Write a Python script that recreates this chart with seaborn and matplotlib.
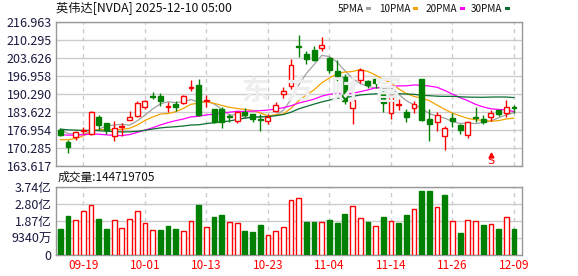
import numpy as np
import pandas as pd
import matplotlib
matplotlib.use("Agg")
import matplotlib.pyplot as plt
import seaborn as sns
from matplotlib.patches import Rectangle

# ---------------- data ----------------
dates = ["09-16", "09-17", "09-18", "09-19", "09-22", "09-23", "09-24", "09-25", "09-26", "09-29",
         "09-30", "10-01", "10-02", "10-03", "10-06", "10-07", "10-08", "10-09", "10-10", "10-13",
         "10-14", "10-15", "10-16", "10-17", "10-20", "10-21", "10-22", "10-23", "10-24", "10-27",
         "10-28", "10-29", "10-30", "10-31", "11-03", "11-04", "11-05", "11-06", "11-07", "11-10",
         "11-11", "11-12", "11-13", "11-14", "11-17", "11-18", "11-19", "11-20", "11-21", "11-24",
         "11-25", "11-26", "11-28", "12-01", "12-02", "12-03", "12-04", "12-05", "12-08", "12-09"]

open_ = [177.07, 172.62, 174.36, 176.40, 175.47, 181.62, 179.55, 174.84, 177.92, 180.66,
         182.14, 185.33, 189.55, 189.40, 185.50, 186.59, 186.96, 192.50, 193.73, 187.55,
         184.73, 184.73, 182.10, 180.14, 183.47, 182.88, 181.03, 180.40, 184.10, 190.20,
         193.25, 208.07, 205.22, 206.59, 207.33, 203.48, 198.81, 196.59, 185.22, 195.48,
         195.10, 195.96, 191.03, 183.36, 186.07, 183.47, 184.96, 195.85, 181.03, 179.77,
         174.84, 181.25, 178.92, 175.22, 181.88, 181.03, 181.62, 184.36, 183.10, 185.40]
high = [177.60, 173.36, 176.70, 178.20, 184.10, 182.50, 179.66, 180.14, 179.66, 183.85,
        187.55, 188.07, 190.88, 190.51, 187.18, 187.81, 189.92, 195.48, 195.85, 189.92,
        184.85, 185.33, 182.88, 184.10, 184.96, 183.00, 182.88, 182.88, 187.18, 192.70,
        203.37, 212.10, 206.22, 208.07, 211.51, 203.99, 202.88, 197.55, 188.55, 200.03,
        195.48, 196.33, 191.40, 189.70, 188.44, 184.73, 187.81, 196.00, 184.73, 183.47,
        178.55, 183.10, 179.00, 180.40, 185.59, 182.62, 184.47, 184.50, 188.07, 186.07]
low = [174.80, 168.30, 173.25, 175.50, 175.10, 176.96, 175.47, 172.99, 174.84, 180.50,
       181.62, 184.73, 188.44, 185.96, 183.47, 184.10, 186.59, 191.25, 182.25, 185.59,
       179.40, 177.70, 179.77, 179.55, 181.62, 179.77, 176.70, 179.18, 183.47, 188.90,
       191.99, 203.99, 201.51, 202.50, 206.22, 198.18, 195.10, 186.44, 179.29, 194.22,
       192.62, 192.62, 183.62, 180.88, 184.36, 179.77, 183.10, 180.14, 172.99, 176.44,
       169.66, 178.18, 175.47, 173.84, 179.77, 179.18, 180.40, 182.00, 181.88, 183.25]
close = [175.10, 170.51, 176.21, 176.80, 183.73, 178.66, 177.07, 177.55, 178.44, 181.88,
         186.81, 187.55, 189.03, 187.81, 185.80, 185.33, 189.40, 192.90, 182.51, 188.07,
         180.03, 179.77, 181.90, 183.47, 182.62, 181.03, 180.66, 181.88, 186.22, 191.40,
         201.03, 207.70, 203.11, 202.74, 208.29, 199.03, 196.96, 187.80, 188.07, 199.03,
         193.62, 194.22, 187.07, 189.50, 186.59, 181.62, 186.59, 180.77, 179.18, 182.51,
         177.70, 180.40, 177.07, 180.03, 181.40, 179.77, 183.25, 182.88, 185.59, 185.20]
# closes before the visible window (feed the moving averages)
prior_close = [178.26, 179.42, 180.77, 182.70, 182.06, 183.16, 181.59, 182.02, 180.45, 182.01,
               175.64, 175.40, 174.98, 177.99, 179.81, 181.77, 181.60, 180.17, 174.18, 170.78,
               170.62, 171.66, 167.02, 168.31, 170.76, 177.33, 177.17, 177.82, 177.75]
# volume in 亿 (1e8) shares
volume_yi = [1.43, 2.14, 1.91, 2.40, 2.73, 1.98, 1.43, 1.91, 1.48, 1.98,
             2.40, 1.74, 1.36, 1.36, 1.58, 1.43, 1.30, 1.85, 2.75, 1.52,
             2.09, 2.20, 1.80, 1.74, 1.32, 1.26, 1.65, 1.08, 1.30, 1.52,
             3.00, 3.12, 1.81, 1.81, 1.80, 1.92, 1.76, 2.25, 2.68, 2.02,
             1.81, 1.58, 2.09, 1.85, 1.76, 2.20, 2.53, 3.52, 3.52, 2.62,
             3.30, 1.85, 1.21, 1.91, 1.85, 1.65, 1.69, 1.43, 2.07, 1.44719705]

price_ticks = [163.617, 170.285, 176.954, 183.622, 190.290, 196.958, 203.626, 210.295, 216.963]
price_tick_labels = ["163.617", "170.285", "176.954", "183.622", "190.290",
                     "196.958", "203.626", "210.295", "216.963"]
vol_ticks = [0, 0.934, 1.868, 2.802, 3.736]
vol_tick_labels = ["0", "9340万", "1.87亿", "2.80亿", "3.74亿"]
date_tick_labels = ["09-19", "10-01", "10-13", "10-23", "11-04", "11-14", "11-26", "12-09"]
ma_periods = [5, 10, 20, 30]
ma_names = ["5PMA", "10PMA", "20PMA", "30PMA"]
ma_colors = ["#a0a0a0", "#f5a300", "#ff00ff", "#0a6e32"]
title_text = "英伟达[NVDA] 2025-12-10 05:00"
vol_title = "成交量:144719705"
signal_index = 56

# ---------------- style ----------------
sns.set_theme(style="white")
plt.rcParams['font.family'] = ['Noto Sans CJK SC', 'DejaVu Sans']

RED = "#ff0000"
GREEN = "#008000"
GRID = "#cccccc"
SPINE = "#999999"
TICK = "#1a1a40"

W, H = 578, 276
fig = plt.figure(figsize=(W / 100, H / 100), dpi=100)
fig.patch.set_facecolor("white")


def rect(l, t, r, b):
    return [l / W, 1 - b / H, (r - l) / W, (b - t) / H]


ax = fig.add_axes(rect(56, 22, 522, 166))
axv = fig.add_axes(rect(56, 187, 522, 255))

n = len(close)
x = np.arange(n)
xlim = (-0.56, n - 1 + 1.04)
tick_pos = [dates.index(d) for d in date_tick_labels]

for a in (ax, axv):
    a.set_xlim(*xlim)
    for s in a.spines.values():
        s.set_color(SPINE)
        s.set_linewidth(1.0)
    for p in tick_pos:
        a.axvline(p, color=GRID, lw=1.0, ls=(0, (3, 3)), zorder=0)
    a.tick_params(axis="both", length=0)

# watermark
for cx, ch in zip([255, 299, 344, 388], "东方财富"):
    fig.text(cx / W, 1 - 92 / H, ch, ha="center", va="center", fontsize=20,
             color="#eeeeee", fontweight="bold", zorder=0)

# price panel
ax.set_ylim(price_ticks[0], price_ticks[-1])
ax.set_yticks(price_ticks)
ax.set_yticklabels(price_tick_labels, fontsize=9, color=TICK)
ax.tick_params(axis="y", pad=3)
ax.yaxis.grid(True, color=GRID, lw=1.0, zorder=0)
ax.set_xticks([])
ax.patch.set_alpha(0)

# moving averages
full = pd.Series(prior_close + close)
for p, c in zip(ma_periods, ma_colors):
    ma = full.rolling(p).mean().iloc[len(prior_close):].to_numpy()
    sns.lineplot(x=x, y=ma, color=c, lw=0.9, ax=ax, zorder=2, legend=False)

bw = 0.64
for i in range(n):
    o, h, l, c = open_[i], high[i], low[i], close[i]
    up = c > o
    col = RED if up else GREEN
    ax.vlines(i, l, h, color=col, lw=1.0, zorder=3)
    bottom = min(o, c)
    height = max(abs(c - o), 0.02)
    ax.add_patch(Rectangle((i - bw / 2, bottom), bw, height,
                           facecolor="white" if up else GREEN,
                           edgecolor=col, lw=1.0, zorder=4))

# signal marker
ax.plot([signal_index], [167.8], marker="^", color=RED, ms=3.5, zorder=5)
ax.text(signal_index, 165.3, "S", color=RED, fontsize=8, ha="center", va="center",
        zorder=5, family="DejaVu Sans")

# volume panel
prev = [prior_close[-1]] + close[:-1]
vol_up = [c >= pc for c, pc in zip(close, prev)]
axv.bar(x, volume_yi, width=0.62,
        color=["white" if u else GREEN for u in vol_up],
        edgecolor=[RED if u else GREEN for u in vol_up], lw=1.0, zorder=3)
axv.set_ylim(0, vol_ticks[-1])
axv.set_yticks(vol_ticks)
axv.set_yticklabels(vol_tick_labels, fontsize=9, color=TICK)
axv.tick_params(axis="y", pad=3)
axv.yaxis.grid(True, color=GRID, lw=1.0, zorder=0)
axv.set_xticks(tick_pos)
axv.set_xticklabels(date_tick_labels, fontsize=8.5, color=RED)
axv.tick_params(axis="x", pad=3)

# texts
fig.text(56 / W, 1 - 8.5 / H, title_text, ha="left", va="center", fontsize=8.8, color="#111111")
fig.text(58 / W, 1 - 177 / H, vol_title, ha="left", va="center", fontsize=8.5, color="#111111")

legend_rect_x = [366, 413, 460, 505]
for name, col, rx in zip(ma_names, ma_colors, legend_rect_x):
    fig.text((rx - 2.5) / W, 1 - 8.5 / H, name, ha="right", va="center", fontsize=7.2,
             color="#111111")
    fig.patches.append(Rectangle((rx / W, 1 - 10 / H), 5 / W, 3 / H, transform=fig.transFigure,
                                 facecolor=col, edgecolor="none"))

fig.savefig("out.png", dpi=100, facecolor="white")
